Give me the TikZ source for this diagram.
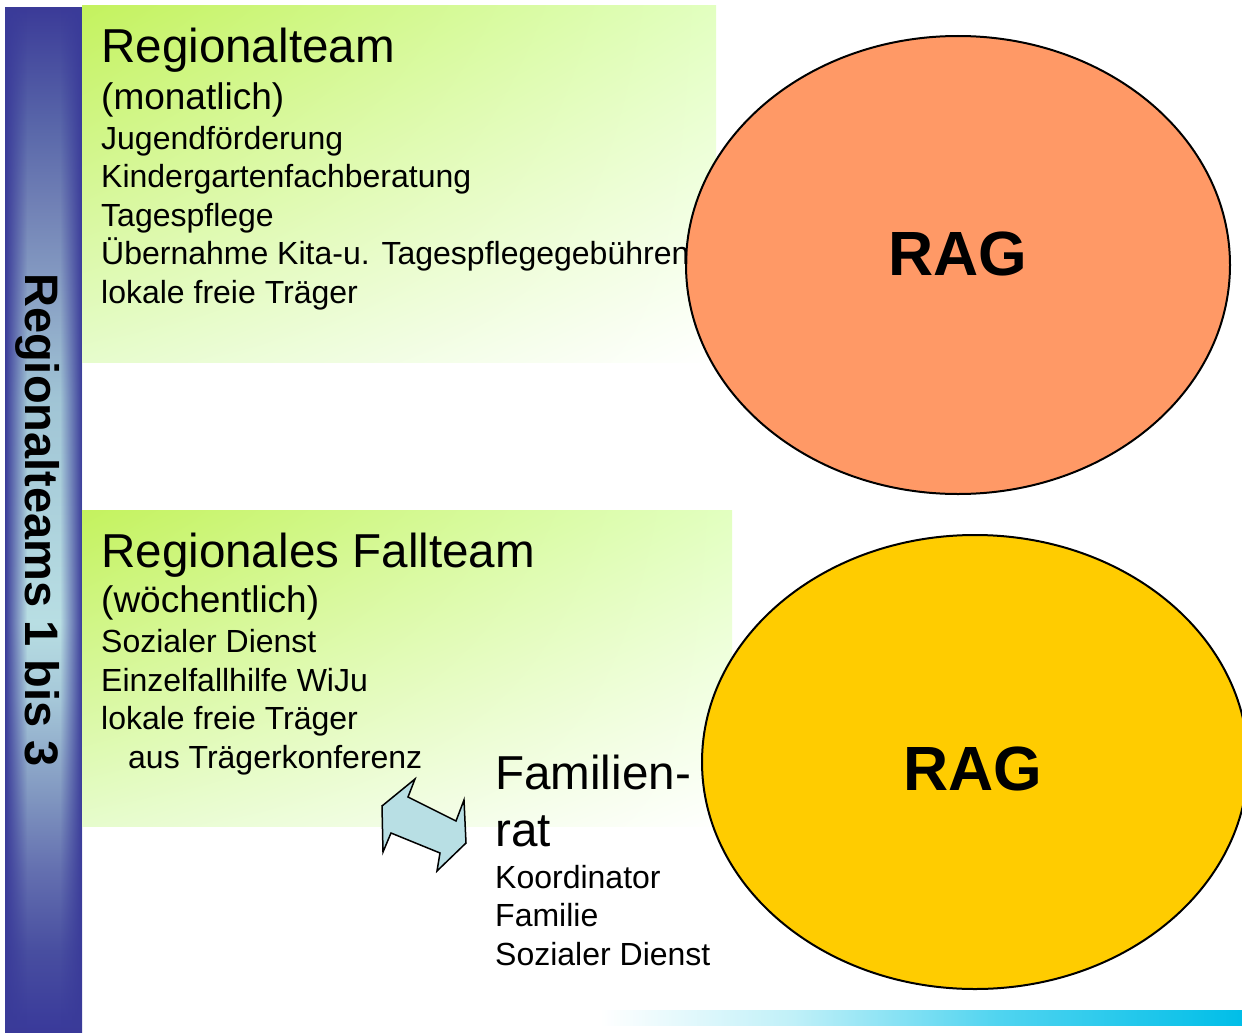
\documentclass[tikz,border=0pt]{standalone}
\usepackage{fontspec}
\setmainfont{Liberation Sans}
\usetikzlibrary{fadings,shadings}
\definecolor{barblue}{HTML}{3A3B99}
\definecolor{bA}{HTML}{39399A}
\definecolor{bB}{HTML}{484EA0}
\definecolor{bC}{HTML}{6470B0}
\definecolor{bD}{HTML}{8096C0}
\definecolor{bE}{HTML}{A5C7D8}
\definecolor{bF}{HTML}{B8DEE3}
\definecolor{bG}{HTML}{A0C4D5}
\definecolor{bH}{HTML}{8AA2C5}
\definecolor{bI}{HTML}{7080B5}
\definecolor{bJ}{HTML}{5A68AA}
\definecolor{bK}{HTML}{3B3B98}
\definecolor{gUL}{HTML}{C4F25E}
\definecolor{gUR}{HTML}{E2FFC0}
\definecolor{gLL}{HTML}{E6FCCC}
\definecolor{salmon}{HTML}{FF9966}
\definecolor{gold}{HTML}{FFCC00}
\definecolor{arrowblue}{HTML}{B8DFE4}
\definecolor{lc1}{HTML}{C0F0F8}
\definecolor{lc2}{HTML}{50D4F0}
\definecolor{lc3}{HTML}{00BEE8}
\pgfdeclareverticalshading{barv}{100bp}{color(0bp)=(bA); color(25bp)=(bA); color(29bp)=(bB); color(33bp)=(bC); color(36.5bp)=(bD); color(41.25bp)=(bE); color(45bp)=(bF); color(56bp)=(bG); color(60.75bp)=(bH); color(65.5bp)=(bI); color(69bp)=(bJ); color(75bp)=(bK); color(100bp)=(bK)}
\pgfdeclarehorizontalshading{linec}{100bp}{color(0bp)=(white); color(25bp)=(white); color(40bp)=(lc1); color(56bp)=(lc2); color(75bp)=(lc3); color(100bp)=(lc3)}
\tikzfading[name=faderight, left color=transparent!0, right color=transparent!100]
\tikzfading[name=fadeleft, left color=transparent!100, right color=transparent!0]
\begin{document}
\begin{tikzpicture}[x=1pt,y=-1pt,
  txt/.style={anchor=base west, inner sep=0pt, font=\fontsize{32}{38}\selectfont},
  mid/.style={anchor=base west, inner sep=0pt, font=\fontsize{37}{44}\selectfont},
  big/.style={anchor=base west, inner sep=0pt, font=\fontsize{47.6}{56}\selectfont},
  rag/.style={anchor=base, inner sep=0pt, font=\fontsize{62.5}{74}\selectfont\bfseries},
  greenbox/.style={upper left=gUL, upper right=gUR, lower left=gLL, lower right=white},
  oval/.style={draw=black, line width=2pt},
  dblarrow/.style={draw=black, line width=1.5pt, fill=arrowblue, line join=miter}]
\useasboundingbox (0,0) rectangle (1242,1033);
\fill[white] (0,0) rectangle (1242,1033);
% left bar
\shade[shading=barv] (5,8) rectangle (82,1033);
\fill[barblue, path fading=faderight] (5,8) rectangle (27,1033);
\fill[barblue, path fading=fadeleft] (60,8) rectangle (82,1033);
\node[rotate=-90, anchor=base, inner sep=0pt, font=\fontsize{47}{56}\selectfont\bfseries] (bartitle) at (25,520) {Regionalteams 1 bis 3};
% green boxes
\shade[greenbox] (82,6) rectangle (716,362);
\shade[greenbox] (82,510) rectangle (732,826);
% ellipses
\draw[oval, fill=salmon] (958,265) ellipse [x radius=272, y radius=229];
\draw[oval, fill=gold] (975,762) ellipse [x radius=273, y radius=227];
\node[rag] (rag1) at (958,275) {RAG};
\node[rag] (rag2) at (973,790) {RAG};
% box 1 text
\node[big] (t1) at (101,63) {Regionalteam};
\node[mid] (t2) at (101,109) {(monatlich)};
\node[txt] (t3) at (101,149) {Jugendförderung};
\node[txt] (t4) at (101,187.5) {Kindergartenfachberatung};
\node[txt] (t5) at (101,226) {Tagespflege};
\node[txt] (t6) at (101,264.5) {Übernahme Kita-u. Tagespflegegebühren};
\node[txt] (t7) at (101,303) {lokale freie Träger};
% box 2 text
\node[big] (u1) at (101,567) {Regionales Fallteam};
\node[mid] (u2) at (101,612) {(wöchentlich)};
\node[txt] (u3) at (101,652) {Sozialer Dienst};
\node[txt] (u4) at (101,691) {Einzelfallhilfe WiJu};
\node[txt] (u5) at (101,729.5) {lokale freie Träger};
\node[txt] (u6) at (128,768) {aus Trägerkonferenz};
% Familienrat
\node[big] (f1) at (495,789) {Familien-};
\node[big] (f2) at (495,846) {rat};
\node[txt] (f3) at (495,888) {Koordinator};
\node[txt] (f4) at (495,926) {Familie};
\node[txt] (f5) at (495,965) {Sozialer Dienst};
% double arrow
\draw[dblarrow] (415,779) -- (408,797) -- (456,821) -- (464,800) -- (466,843) -- (437,871) -- (440,853) -- (391,833) -- (383,852) -- (382,806) -- cycle;
% bottom line
\shade[shading=linec] (600,1010) rectangle (1242,1025);
\end{tikzpicture}
\end{document}
